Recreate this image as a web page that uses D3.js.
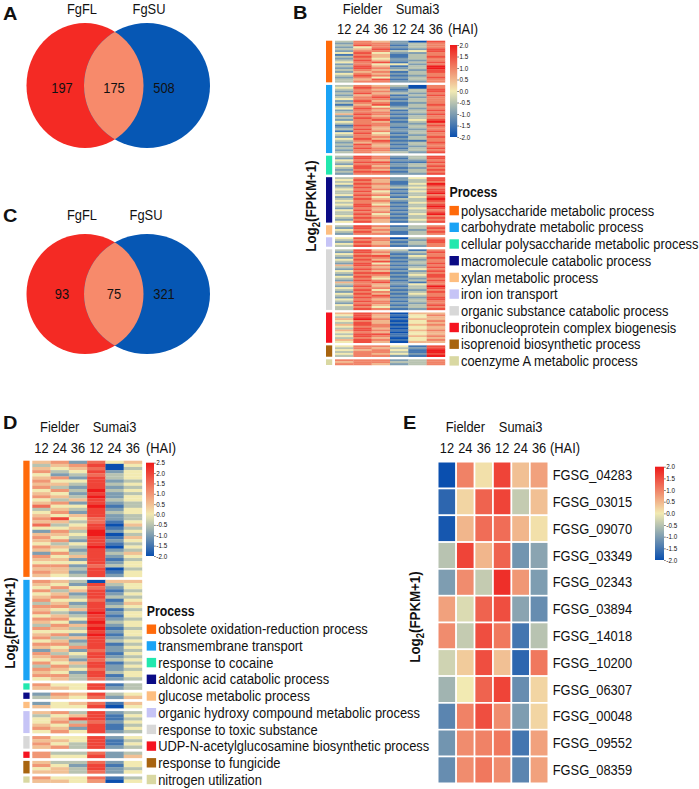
<!DOCTYPE html>
<html><head><meta charset="utf-8">
<script src="https://cdn.jsdelivr.net/npm/d3@7"></script>
<style>
body{margin:0;background:#fff}
svg{display:block}
text{font-family:"Liberation Sans",Arial,Helvetica,sans-serif;fill:#111}
</style>
</head><body>
<svg id="fig" width="699" height="789"></svg>
<script>
// ---------------- DATA ----------------
const vennSets = ["FgFL", "FgSU"];
const vennA = [197, 175, 508];   // FgFL only, shared, FgSU only
const vennC = [93, 75, 321];
const cultivars = ["Fielder", "Sumai3"];
const timepoints = ["12", "24", "36", "12", "24", "36"];
const unitLabel = "(HAI)";

const processesB = ["polysaccharide metabolic process", "carbohydrate metabolic process",
  "cellular polysaccharide metabolic process", "macromolecule catabolic process",
  "xylan metabolic process", "iron ion transport", "organic substance catabolic process",
  "ribonucleoprotein complex biogenesis", "isoprenoid biosynthetic process",
  "coenzyme A metabolic process"];
const processesD = ["obsolete oxidation-reduction process", "transmembrane transport",
  "response to cocaine", "aldonic acid catabolic process", "glucose metabolic process",
  "organic hydroxy compound metabolic process", "response to toxic substance",
  "UDP-N-acetylglucosamine biosynthetic process", "response to fungicide",
  "nitrogen utilization"];

// heatmap rows: 6 digits per gene (Fielder 12/24/36, Sumai3 12/24/36); value = digit*0.5 - 2
const heatB = [
  ["365207","266236","376136","246236","357127","266347","474226","165136","375137","264236","375226",
   "467137","264426","375138","276238","365327","256137","465236","376126","264237","357136","366226"],
  ["365306","476206","365137","266237","375326","256137","367226","466136","275236","366126","157137",
   "364236","476326","265137","366236","576127","265236","376136","267247","465138","366226","176237",
   "265136","375226","166237","474136","365226","266137","475236","367116","256237","375136","265226",
   "376137","266236","365327"],
  ["376237","276137","465226","377117","266236","475237","376126","265237","377136","266227"],
  ["366247","475237","365136","476148","265237","375346","466137","374247","365138","476236","264147",
   "375338","466237","365146","474237","376138","265247","475136","366237","374148","465236","376137",
   "265246","475137"],
  ["376136","275237","466226","375137","266136"],
  ["476036","366227","275137","465236","376126"],
  ["375316","276237","465126","377246","266137","475226","367136","274237","576126","365237","276146",
   "465227","377136","266247","475137","364226","276137","567216","365246","275138","466237","374126",
   "266237","475146","367236","276127","465237","376136","266226","475137","364236","376127"],
  ["576055","475146","375045","586155","465046","375145","576056","466145","375045","576156","465045",
   "377145","476156","365045","576146","475055"],
  ["466417","365327","456418","366318","465427","366218"],
  ["666236","566336","665236"]
];
const heatD = [
  ["562745","356804","545703","634824","423734","562834","644823","553834","632823","463934","542823",
   "653924","435834","562823","744913","353824","462834","545823","684723","553714","734805","445813",
   "263924","554903","643815","562824","434813","653904","542823","263835","645824","552813","444824",
   "662734","553803","652814","543824"],
  ["653055","542834","464724","635813","452824","563833","644714","352825","663834","545813","632924",
   "453814","664823","542934","365824","653913","444824","562914","635823","452834","663813","546824",
   "252723","634814","563823","452734","645813","363824","654723","542834","663814","453723"],
  ["644813","554823"],
  ["265834","354725"],
  ["245715","544804"],
  ["563823","345814","458813","463724","546813","652814","464823"],
  ["644824","554813","643814","563823"],
  ["633723","644825"],
  ["533724","642814","453823","553724"],
  ["644713","554604"]
];

const genesE = ["FGSG_04283","FGSG_03015","FGSG_09070","FGSG_03349","FGSG_02343","FGSG_03894",
  "FGSG_14018","FGSG_10200","FGSG_06307","FGSG_00048","FGSG_09552","FGSG_08359"];
const valuesE = [
  [-2.0, 1.0, 0.1, 1.6, 0.4, 0.7],
  [-1.7, 0.2, 1.3, 1.6,-0.4, 0.4],
  [-1.9, 0.5, 1.2, 1.2, 0.5, 0.1],
  [-0.5, 1.6, 0.5, 1.3,-1.1,-0.9],
  [-1.0, 0.9,-0.4, 1.8, 0.8,-1.0],
  [ 0.7,-0.2, 1.3, 1.5,-0.9,-1.2],
  [ 0.9,-0.4, 1.5, 1.1,-1.5,-0.5],
  [-0.3, 0.3, 1.5, 0.4,-1.7, 1.1],
  [-0.7, 0.0, 1.3, 1.6,-1.2, 0.2],
  [-1.3, 1.0, 1.5, 0.9,-1.0, 0.2],
  [-1.1, 0.9, 1.0, 1.1,-1.5, 0.7],
  [-1.2, 0.9, 1.1, 0.9,-1.3, 0.7]
];
const ticksB = [2.0, 1.5, 1.0, 0.5, 0.0, -0.5, -1.0, -1.5, -2.0];
const ticksD = [2.5, 2.0, 1.5, 1.0, 0.5, 0.0, -0.5, -1.0, -1.5, -2.0];
const ticksE = [2.0, 1.5, 1.0, 0.5, 0.0, -0.5, -1.0, -1.5, -2.0];

// ---------------- STYLE ----------------
const processColors = ["#FF6A0A","#1AA3F5","#22E8AE","#0B0B85","#FDBE80","#C6C4F6","#D8D8D8","#F51420","#A8640F","#D9D8A2"];
const rampColors = ["#0A4FAF", "#F2EAB2", "#EE1A1A"];
const colorB = d3.scaleLinear().domain([-2, 0, 2]).range(rampColors).clamp(true);
const colorD = d3.scaleLinear().domain([-2, 0, 2.5]).range(rampColors).clamp(true);
const colorE = colorB;

const parseRows = groups => groups.map(rows => rows.map(r => r.split("").map(c => +c * 0.5 - 2)));
const dataB = parseRows(heatB);
const dataD = parseRows(heatD);

const svg = d3.select("#fig");
const defs = svg.append("defs");

function txt(g, x, y, s, o = {}) {
  return g.append("text")
    .attr("transform", `translate(${x},${y})` + (o.rot ? ` rotate(${o.rot})` : "") + ` scale(${o.sx ?? 0.92},1)`)
    .attr("font-size", o.size ?? 14)
    .attr("text-anchor", o.anchor ?? "start")
    .attr("font-weight", o.bold ? "bold" : null)
    .text(s);
}
function panelLabel(x, y, s) { txt(svg, x, y, s, { size: 19, bold: true, sx: 1.05 }); }
function log2Label(bx, cy) {
  const t = svg.append("text")
    .attr("transform", `translate(${bx},${cy}) rotate(-90) scale(0.95,1)`)
    .attr("font-size", 14).attr("font-weight", "bold").attr("text-anchor", "middle");
  t.append("tspan").text("Log");
  t.append("tspan").attr("font-size", 10).attr("dy", 4).text("2");
  t.append("tspan").attr("dy", -4).text("(FPKM+1)");
}

// ---------------- VENN ----------------
let clipId = 0;
function venn(cy, ry, vals, labelY, numY, labelX) {
  const g = svg.append("g");
  const L = { cx: 85, rx: 58.5 }, R = { cx: 147, rx: 63 };
  const id = "vclip" + (clipId++);
  defs.append("clipPath").attr("id", id).append("ellipse")
    .attr("cx", R.cx).attr("cy", cy).attr("rx", R.rx).attr("ry", ry);
  g.append("ellipse").attr("cx", L.cx).attr("cy", cy).attr("rx", L.rx).attr("ry", ry).attr("fill", "#F42A24");
  g.append("ellipse").attr("cx", R.cx).attr("cy", cy).attr("rx", R.rx).attr("ry", ry).attr("fill", "#0657B4");
  g.append("ellipse").attr("cx", L.cx).attr("cy", cy).attr("rx", L.rx).attr("ry", ry)
    .attr("fill", "#F78A6B").attr("clip-path", `url(#${id})`);
  txt(g, labelX[0], labelY, vennSets[0], { anchor: "middle" });
  txt(g, labelX[1], labelY, vennSets[1], { anchor: "middle" });
  const nx = [62, 114, 164];
  vals.forEach((v, i) => txt(g, nx[i], numY, String(v), { anchor: "middle" }));
}
panelLabel(3, 19.5, "A");
venn(85.5, 62.5, vennA, 13.5, 92.5, [82, 149]);
panelLabel(3, 222, "C");
venn(294, 60, vennC, 220, 299, [82, 146]);

// ---------------- HEATMAP ----------------
function heatmap(data, o) {
  const g = svg.append("g");
  const nRows = d3.sum(data, d => d.length);
  const total = nRows + o.gapU * (data.length - 1);
  const y = d3.scaleLinear().domain([0, total]).range([o.y0, o.y1]);
  const x = d3.scaleBand().domain(d3.range(6)).range([o.x0, o.x1]);
  let u = 0;
  data.forEach((rows, gi) => {
    const start = u;
    rows.forEach(r => {
      g.selectAll(null).data(r).enter().append("rect")
        .attr("x", (d, ci) => x(ci)).attr("y", y(u))
        .attr("width", x.bandwidth() + 0.2).attr("height", y(u + 1) - y(u) + 0.25)
        .attr("fill", d => o.color(d));
      u++;
    });
    g.append("rect").attr("x", o.ax).attr("y", y(start)).attr("width", o.aw)
      .attr("height", y(u) - y(start)).attr("fill", processColors[gi]);
    u += o.gapU;
  });
  return x;
}
function header(x, cultY, numY, haiX) {
  txt(svg, x(1) + x.bandwidth() / 2, cultY, cultivars[0], { anchor: "middle" });
  txt(svg, x(4) + x.bandwidth() / 2, cultY, cultivars[1], { anchor: "middle" });
  timepoints.forEach((t, i) => txt(svg, x(i) + x.bandwidth() / 2, numY, t, { anchor: "middle" }));
  txt(svg, haiX, numY, unitLabel);
}
let gradId = 0;
function colorbar(color, domain, ticks, x0, y0, w, h) {
  const id = "grad" + (gradId++);
  const gr = defs.append("linearGradient").attr("id", id).attr("x1", 0).attr("y1", 1).attr("x2", 0).attr("y2", 0);
  d3.range(0, 1.0001, 0.05).forEach(t => {
    const v = domain[0] + t * (domain[1] - domain[0]);
    gr.append("stop").attr("offset", t).attr("stop-color", color(v));
  });
  svg.append("rect").attr("x", x0).attr("y", y0).attr("width", w).attr("height", h).attr("fill", `url(#${id})`);
  const s = d3.scaleLinear().domain(domain).range([y0 + h, y0]);
  const ax = svg.append("g").attr("transform", `translate(${x0 + w},0)`)
    .call(d3.axisRight(s).tickValues(ticks).tickSize(1.8).tickPadding(0.5).tickFormat(d => d.toFixed(1)));
  ax.select(".domain").remove();
  ax.selectAll(".tick line").attr("stroke", "#333").attr("stroke-width", 0.6);
  ax.selectAll(".tick text").attr("font-size", 6.3).attr("fill", "#333")
    .attr("font-family", '"Liberation Sans",Arial,sans-serif');
}
function legend(names, x0, titleY, y0, step) {
  txt(svg, x0, titleY, "Process", { bold: true, size: 14, sx: 0.88 });
  names.forEach((n, i) => {
    const cy = y0 + i * step;
    svg.append("rect").attr("x", x0).attr("y", cy - 4.8).attr("width", 9.4).attr("height", 9.4).attr("fill", processColors[i]);
    txt(svg, x0 + 11.5, cy + 5, n, { size: 14 });
  });
}

// Panel B
panelLabel(293, 18.5, "B");
const xB = heatmap(dataB, { x0: 335, x1: 445, y0: 40.7, y1: 365, gapU: 1.37, ax: 326, aw: 6.2, color: colorB });
header(xB, 13.5, 33.5, 448);
colorbar(colorB, [-2, 2], ticksB, 450, 45, 7.2, 92);
log2Label(316, 206);
legend(processesB, 449.5, 197, 210.7, 16.7);

// Panel D
panelLabel(3, 428.5, "D");
const xD = heatmap(dataD, { x0: 32.3, x1: 142, y0: 460.7, y1: 782.7, gapU: 0.95, ax: 23.3, aw: 6.3, color: colorD });
header(xD, 432, 452.5, 146);
colorbar(colorD, [-2, 2.5], ticksD, 146, 462.7, 8, 93.3);
log2Label(14.5, 623);
legend(processesD, 146.7, 616, 629.3, 16.7);

// Panel E
panelLabel(403, 428.5, "E");
const gE = svg.append("g");
const xE = d3.scaleBand().domain(d3.range(6)).range([437.7, 548.3]);
const yE = d3.scaleBand().domain(genesE).range([461.7, 783.3]);
valuesE.forEach((row, ri) => {
  gE.selectAll(null).data(row).enter().append("rect")
    .attr("x", (d, ci) => xE(ci)).attr("y", yE(genesE[ri]))
    .attr("width", xE.bandwidth()).attr("height", yE.bandwidth())
    .attr("fill", d => colorE(d)).attr("stroke", "#fff").attr("stroke-width", 1.6);
});
genesE.forEach(gn => txt(gE, 552.7, yE(gn) + yE.bandwidth() / 2 + 5, gn, { size: 14 }));
header(xE, 432, 453, 550);
colorbar(colorE, [-2, 2], ticksE, 655, 466.7, 9, 93.3);
log2Label(420, 617);
</script>
</body></html>
